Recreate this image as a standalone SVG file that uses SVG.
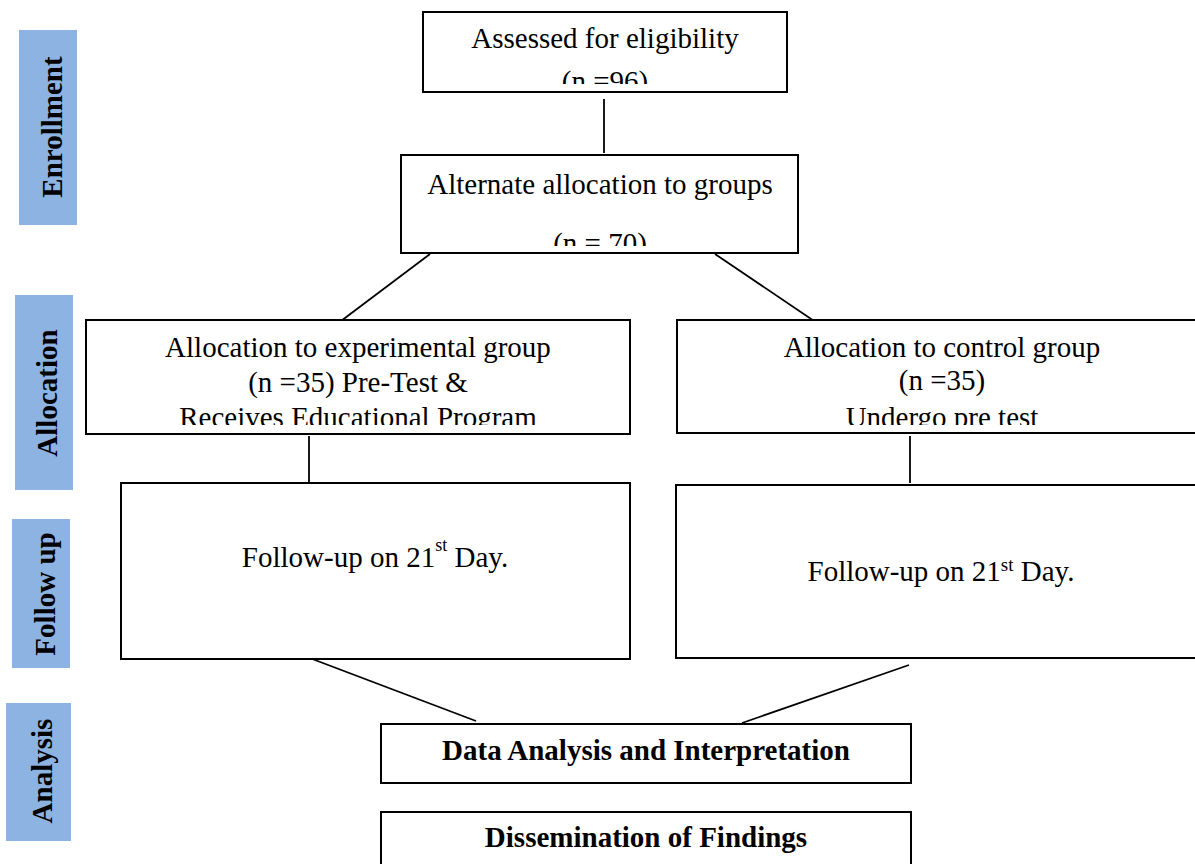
<svg xmlns="http://www.w3.org/2000/svg" width="1195" height="864" viewBox="0 0 1195 864">
<style>
.box{fill:#fff;stroke:#000;stroke-width:2}
.lab{fill:#8db3e2}
.t{font-family:"Liberation Serif","Times New Roman",serif;font-size:29px;fill:#000}
.b{font-weight:bold}
.c{text-anchor:middle}
#connectors line{stroke:#000;stroke-width:1.8}
</style>
<defs>
<clipPath id="c1"><rect x="424" y="13" width="362" height="71"/></clipPath>
<clipPath id="c2"><rect x="402" y="156" width="395" height="90"/></clipPath>
<clipPath id="c3"><rect x="87" y="321" width="542" height="104"/></clipPath>
<clipPath id="c4"><rect x="678" y="321" width="517" height="104"/></clipPath>
</defs>
<rect width="1195" height="864" fill="#fff"/>

<g id="label-enrollment">
<rect class="lab" x="19" y="30" width="58" height="195"/>
<text class="t b c" transform="translate(62,127) rotate(-90)">Enrollment</text>
</g>
<g id="label-allocation">
<rect class="lab" x="15" y="295" width="58" height="195"/>
<text class="t b c" transform="translate(57,393) rotate(-90)">Allocation</text>
</g>
<g id="label-followup">
<rect class="lab" x="12" y="519" width="58" height="149"/>
<text class="t b c" transform="translate(55,594) rotate(-90)">Follow up</text>
</g>
<g id="label-analysis">
<rect class="lab" x="6" y="703" width="65" height="138"/>
<text class="t b c" transform="translate(52,771) rotate(-90)">Analysis</text>
</g>

<g id="connectors">
<line x1="604" y1="99" x2="604" y2="153"/>
<line x1="430" y1="254" x2="341" y2="321"/>
<line x1="715" y1="254" x2="820" y2="325"/>
<line x1="309" y1="436" x2="309" y2="483"/>
<line x1="910" y1="436" x2="910" y2="483"/>
<line x1="307" y1="657" x2="476" y2="721"/>
<line x1="909" y1="665" x2="742" y2="723"/>
</g>

<g id="node-assessed">
<rect class="box" x="423" y="12" width="364" height="80"/>
<g clip-path="url(#c1)">
<text class="t c" x="605" y="48">Assessed for eligibility</text>
<text class="t c" x="605" y="91">(n =96)</text>
</g>
</g>

<g id="node-alternate">
<rect class="box" x="401" y="155" width="397" height="98"/>
<g clip-path="url(#c2)">
<text class="t c" x="600" y="194">Alternate allocation to groups</text>
<text class="t c" x="600" y="253">(n = 70)</text>
</g>
</g>

<g id="node-experimental">
<rect class="box" x="86" y="320" width="544" height="114"/>
<g clip-path="url(#c3)">
<text class="t c" x="358" y="357">Allocation to experimental group</text>
<text class="t c" x="358" y="392">(n =35) Pre-Test &amp;</text>
<text class="t c" x="358" y="427">Receives Educational Program</text>
</g>
</g>

<g id="node-control">
<rect class="box" x="677" y="320" width="530" height="113"/>
<g clip-path="url(#c4)">
<text class="t c" x="942" y="357">Allocation to control group</text>
<text class="t c" x="942" y="390">(n =35)</text>
<text class="t c" x="942" y="427">Undergo pre test</text>
</g>
</g>

<g id="node-followup-exp">
<rect class="box" x="121" y="483" width="509" height="176"/>
<text class="t c" x="375" y="567">Follow-up on 21<tspan font-size="18" dy="-16">st</tspan><tspan dy="16"> Day.</tspan></text>
</g>

<g id="node-followup-ctrl">
<rect class="box" x="676" y="485" width="530" height="173"/>
<text class="t c" x="941" y="581">Follow-up on 21<tspan font-size="19" dy="-10">st</tspan><tspan dy="10"> Day.</tspan></text>
</g>

<g id="node-analysis">
<rect class="box" x="381" y="724" width="530" height="59"/>
<text class="t b c" x="646" y="760">Data Analysis and Interpretation</text>
</g>

<g id="node-dissemination">
<rect class="box" x="381" y="812" width="530" height="70"/>
<text class="t b c" x="646" y="847">Dissemination of Findings</text>
</g>
</svg>
